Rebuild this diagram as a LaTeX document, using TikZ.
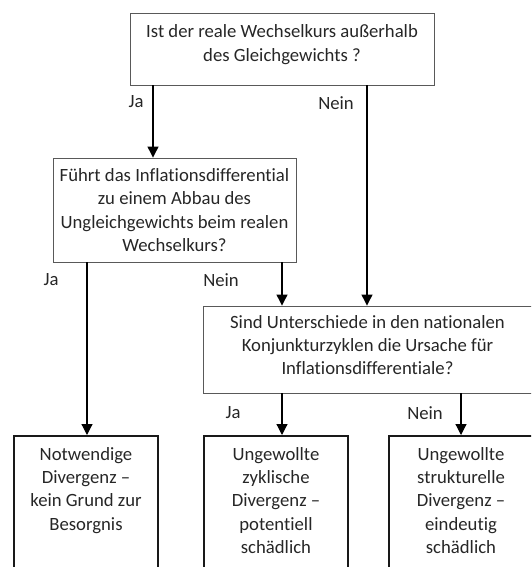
\documentclass[tikz,border=0pt]{standalone}
\usepackage{fontspec}
\setmainfont{Carlito}[Ligatures=NoCommon]
\usetikzlibrary{arrows.meta}
\begin{document}
\begin{tikzpicture}[x=1pt,y=-1pt,
  txt/.style={font=\fontsize{18.7}{23.3}\selectfont, text=black!85},
  qbox/.style={draw=black!65, line width=0.9pt, inner sep=0pt},
  qtxt/.style={txt, align=center, inner sep=0pt},
  res/.style={txt, draw=black!90, line width=2pt, inner sep=0pt, anchor=north},
  arr/.style={-{Triangle[length=11pt,width=11pt]}, line width=1.2pt, black},
  lab/.style={txt}]
\useasboundingbox (0,0) rectangle (531,567);
\clip (0,0) rectangle (531,567);

\node[qbox, minimum width=304pt, minimum height=72pt] (q1) at (282,49) {};
\node[qtxt] (q1t) at ([yshift=4.5pt]q1.center)
  {Ist der reale Wechselkurs außerhalb\\des Gleichgewichts ?};
\node[qbox, minimum width=243pt, minimum height=104pt] (q2) at (174.5,210) {};
\node[qtxt] (q2t) at ([yshift=0pt]q2.center)
  {Führt das Inflationsdifferential\\zu einem Abbau des\\Ungleichgewichts beim realen\\Wechselkurs?};
\node[qbox, minimum width=329pt, minimum height=87pt] (q3) at (367.5,349.5) {};
\node[qtxt] (q3t) at ([yshift=4.5pt]q3.center)
  {Sind Unterschiede in den nationalen\\Konjunkturzyklen die Ursache für\\Inflationsdifferentiale?};

\newcommand{\resbox}[1]{\parbox[t][150pt][t]{144pt}{\centering\vspace*{8pt}\strut #1}}
\node[res] (r1) at (86,435) {\resbox{Notwendige\\Divergenz –\\kein Grund zur\\Besorgnis}};
\node[res] (r2) at (276,435) {\resbox{Ungewollte\\zyklische\\Divergenz –\\potentiell\\schädlich}};
\node[res] (r3) at (461,435) {\resbox{Ungewollte\\strukturelle\\Divergenz –\\eindeutig\\schädlich}};

\draw[arr] (q1.south -| 153,0) -- (q2.north -| 153,0);
\draw[arr] (q1.south -| 367,0) -- (q3.north -| 367,0);
\draw[arr] (q2.south -| 87,0) -- (r1.north -| 87,0);
\draw[arr] (q2.south -| 282,0) -- (q3.north -| 282,0);
\draw[arr] (q3.south -| 282,0) -- (r2.north -| 282,0);
\draw[arr] (q3.south -| 461,0) -- (r3.north -| 461,0);

\node[lab] (l1) at (136,102) {Ja};
\node[lab] (l2) at (336,103) {Nein};
\node[lab] (l3) at (51,280) {Ja};
\node[lab] (l4) at (221,280) {Nein};
\node[lab] (l5) at (233,413) {Ja};
\node[lab] (l6) at (425,413) {Nein};
\end{tikzpicture}
\end{document}
